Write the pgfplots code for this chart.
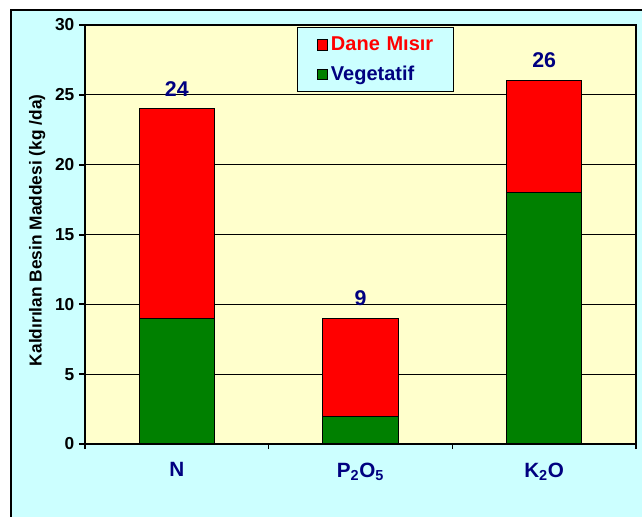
\documentclass[border=0pt]{standalone}
\usepackage{pgfplots}
\pgfplotsset{compat=1.18}
\usepackage{fontspec}
\setmainfont{Liberation Sans}

\definecolor{bgcyan}{HTML}{CCFFFF}
\definecolor{bgyellow}{HTML}{FFFFCC}
\definecolor{barred}{HTML}{FF0000}
\definecolor{bargreen}{HTML}{008000}
\definecolor{navy}{HTML}{000080}

\begin{document}
\begin{tikzpicture}
\path[use as bounding box, clip] (-63.75pt,-54.75pt) rectangle (417.75pt,333pt);
% outer chart area
\draw[line width=1.5pt, fill=bgcyan] (-55.5pt,-80pt) rectangle (460pt,325.5pt);
\begin{axis}[
    at={(0,0)}, anchor=south west,
    scale only axis,
    width=413.25pt, height=314.25pt,
    ybar stacked, bar width=0.41,
    xmin=-0.5, xmax=2.5,
    ymin=0, ymax=30,
    xtick={0,1,2},
    xticklabels={N, P\textsubscript{2}O\textsubscript{5}, K\textsubscript{2}O},
    minor xtick={-0.5,0.5,1.5,2.5},
    ytick={0,5,10,15,20,25,30},
    xtick pos=bottom, ytick pos=left,
    tick align=outside,
    major x tick style={draw=none},
    minor x tick style={black, line width=0.8pt},
    minor tick length=3.75pt,
    major y tick style={black, line width=1.5pt},
    major tick length=4.5pt,
    ymajorgrids=true,
    grid style={black, line width=0.6pt},
    axis line style={black, line width=0.8pt},
    axis background/.style={fill=bgyellow},
    /pgf/number format/assume math mode=true,
    yticklabel style={font=\fontsize{13}{15}\selectfont\bfseries},
    xticklabel style={font=\fontsize{15.5}{17}\selectfont\bfseries, text=navy, yshift=-6pt},
    ylabel={Kaldırılan Besin Maddesi (kg /da)},
    ylabel style={font=\fontsize{13}{15}\selectfont\bfseries,
        at={(axis description cs:-0.087,0.51)}, anchor=center},
    reverse legend,
    area legend,
    legend image code/.code={\path[draw=none, fill=none] (0pt,0pt) -- (22pt,0pt);
        \draw[#1, draw=black, line width=0.6pt] (14pt,-3.8pt) rectangle (21.6pt,3.8pt);},
    legend style={at={(0.385,0.995)}, anchor=north west,
        fill=bgcyan, draw=black, line width=0.8pt,
        font=\fontsize{15}{17}\selectfont\bfseries,
        row sep=6pt, inner xsep=1pt, inner ysep=5pt,
        text width=89pt},
]
\addplot[fill=bargreen, draw=black, line width=0.8pt]
    coordinates {(0,9) (1,2) (2,18)};
\addlegendentry{\textcolor{navy}{Vegetatif}}
\addplot[fill=barred, draw=black, line width=0.8pt]
    coordinates {(0,15) (1,7) (2,8)};
\addlegendentry{\textcolor{barred}{Dane Mısır}}
\draw[black, line width=1.5pt] (rel axis cs:0,1) -- (rel axis cs:0,0) -- (rel axis cs:1,0);
\end{axis}
% totals above the stacks
\begin{axis}[
    at={(0,0)}, anchor=south west,
    scale only axis,
    width=413.25pt, height=314.25pt,
    hide axis,
    ybar, bar width=0.41,
    xmin=-0.5, xmax=2.5,
    ymin=0, ymax=30,
    /pgf/number format/assume math mode=true,
]
\addplot[draw=none, fill=none,
    nodes near coords,
    every node near coord/.append style={font=\fontsize{16}{18}\selectfont\bfseries,
        text=navy, anchor=south, yshift=6pt}]
    coordinates {(0,24) (1,9) (2,26)};
\end{axis}
\end{tikzpicture}
\end{document}
